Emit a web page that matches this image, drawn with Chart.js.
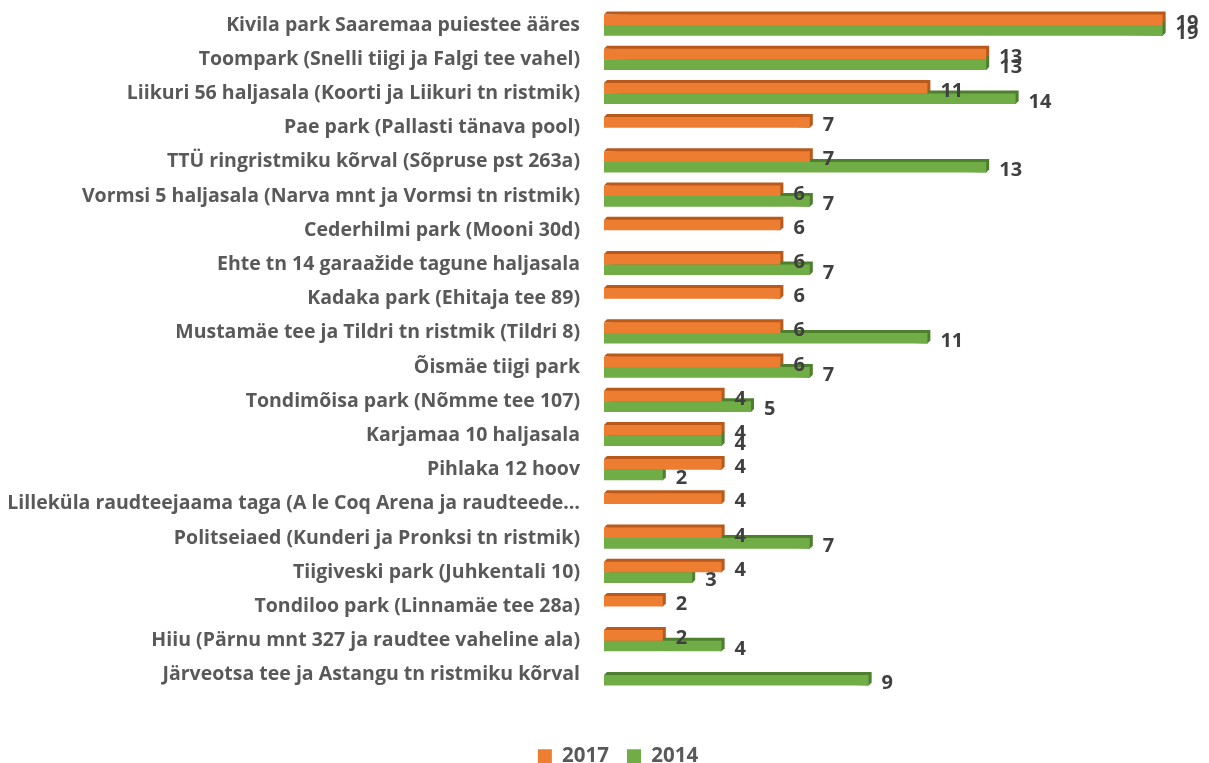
<!DOCTYPE html>
<html>
<head>
<meta charset="utf-8">
<script src="https://cdn.jsdelivr.net/npm/chart.js@4"></script>
<style>
  body { margin: 0; background: #fff; }
  #wrap { width: 1209px; height: 763px; }
</style>
</head>
<body>
<div id="wrap"><canvas id="barChart"></canvas></div>
<script>
var places = [
  "Kivila park Saaremaa puiestee ääres",
  "Toompark (Snelli tiigi ja Falgi tee vahel)",
  "Liikuri 56 haljasala (Koorti ja Liikuri tn ristmik)",
  "Pae park (Pallasti tänava pool)",
  "TTÜ ringristmiku kõrval (Sõpruse pst 263a)",
  "Vormsi 5 haljasala (Narva mnt ja Vormsi tn ristmik)",
  "Cederhilmi park (Mooni 30d)",
  "Ehte tn 14 garaažide tagune haljasala",
  "Kadaka park (Ehitaja tee 89)",
  "Mustamäe tee ja Tildri tn ristmik (Tildri 8)",
  "Õismäe tiigi park",
  "Tondimõisa park (Nõmme tee 107)",
  "Karjamaa 10 haljasala",
  "Pihlaka 12 hoov",
  "Lilleküla raudteejaama taga (A le Coq Arena ja raudteede…",
  "Politseiaed (Kunderi ja Pronksi tn ristmik)",
  "Tiigiveski park (Juhkentali 10)",
  "Tondiloo park (Linnamäe tee 28a)",
  "Hiiu (Pärnu mnt 327 ja raudtee vaheline ala)",
  "Järveotsa tee ja Astangu tn ristmiku kõrval"
];
var values2017 = [19, 13, 11, 7, 7, 6, 6, 6, 6, 6, 6, 4, 4, 4, 4, 4, 4, 2, 2, null];
var values2014 = [19, 13, 14, null, 13, 7, null, 7, null, 11, 7, 5, 4, 2, null, 7, 3, null, 4, 9];

var FONT = "'Open Sans'";

// fake 3d depth behind each bar + legend tweaks
var depthPlugin = {
  id: "depth",
  beforeInit: function(chart) {
    var fit = chart.legend.fit;
    chart.legend.fit = function() {
      fit.bind(chart.legend)();
      this.height = 35;
    };
  },
  afterLayout: function(chart) {
    chart.legend.left += 18;
    chart.legend.right += 18;
  },
  beforeDatasetsDraw: function(chart) {
    var ctx = chart.ctx;
    ctx.save();
    chart.data.datasets.forEach(function(ds, i) {
      var meta = chart.getDatasetMeta(i);
      meta.data.forEach(function(bar, j) {
        if (ds.data[j] == null) return;
        var h = bar.height;
        var top = bar.y - h / 2;
        ctx.fillStyle = ds.depthColor;
        ctx.beginPath();
        ctx.moveTo(bar.base, top);
        ctx.lineTo(bar.base + 3, top - 3);
        ctx.lineTo(bar.x + 3, top - 3);
        ctx.lineTo(bar.x + 3, top + h - 3);
        ctx.lineTo(bar.x, top + h);
        ctx.closePath();
        ctx.fill();
      });
    });
    ctx.restore();
  }
};

var valueLabels = {
  id: "valueLabels",
  afterDatasetsDraw: function(chart) {
    var ctx = chart.ctx;
    ctx.save();
    ctx.font = "bold 20px " + FONT;
    ctx.fillStyle = "#404040";
    ctx.textBaseline = "middle";
    chart.data.datasets.forEach(function(ds, i) {
      var meta = chart.getDatasetMeta(i);
      meta.data.forEach(function(bar, j) {
        if (ds.data[j] == null) return;
        ctx.fillText(ds.data[j], bar.x + 13, bar.y + 3);
      });
    });
    ctx.restore();
  }
};

var ctxB = document.getElementById("barChart").getContext("2d");
var myBarChart = new Chart(ctxB, {
  type: "bar",
  data: {
    labels: places,
    datasets: [
      {
        label: "2017",
        data: values2017,
        backgroundColor: "#ED7D31",
        depthColor: "#B9591B"
      },
      {
        label: "2014",
        data: values2014,
        backgroundColor: "#70AD47",
        depthColor: "#4E7F2E"
      }
    ]
  },
  options: {
    indexAxis: "y",
    responsive: true,
    maintainAspectRatio: false,
    animation: false,
    layout: { padding: { top: 8, left: 8, right: 17, bottom: 0 } },
    datasets: {
      bar: { barPercentage: 1, categoryPercentage: 0.62 }
    },
    scales: {
      x: {
        min: 0,
        max: 20,
        grid: { display: false },
        border: { display: false },
        ticks: { display: false },
        afterFit: function(scale) { scale.height = 36; }
      },
      y: {
        grid: { display: false },
        border: { display: false },
        ticks: {
          padding: 16,
          color: "#595959",
          font: { family: FONT, size: 19.5, weight: "bold" }
        },
        afterFit: function(scale) {
          scale.width = 596;
          scale.paddingTop = 0;
          scale.paddingBottom = 0;
        }
      }
    },
    plugins: {
      tooltip: { enabled: false },
      legend: {
        position: "bottom",
        labels: {
          color: "#595959",
          boxWidth: 14,
          boxHeight: 14,
          padding: 18,
          font: { family: FONT, size: 20.5, weight: "bold" }
        }
      }
    }
  },
  plugins: [depthPlugin, valueLabels]
});
</script>
</body>
</html>
